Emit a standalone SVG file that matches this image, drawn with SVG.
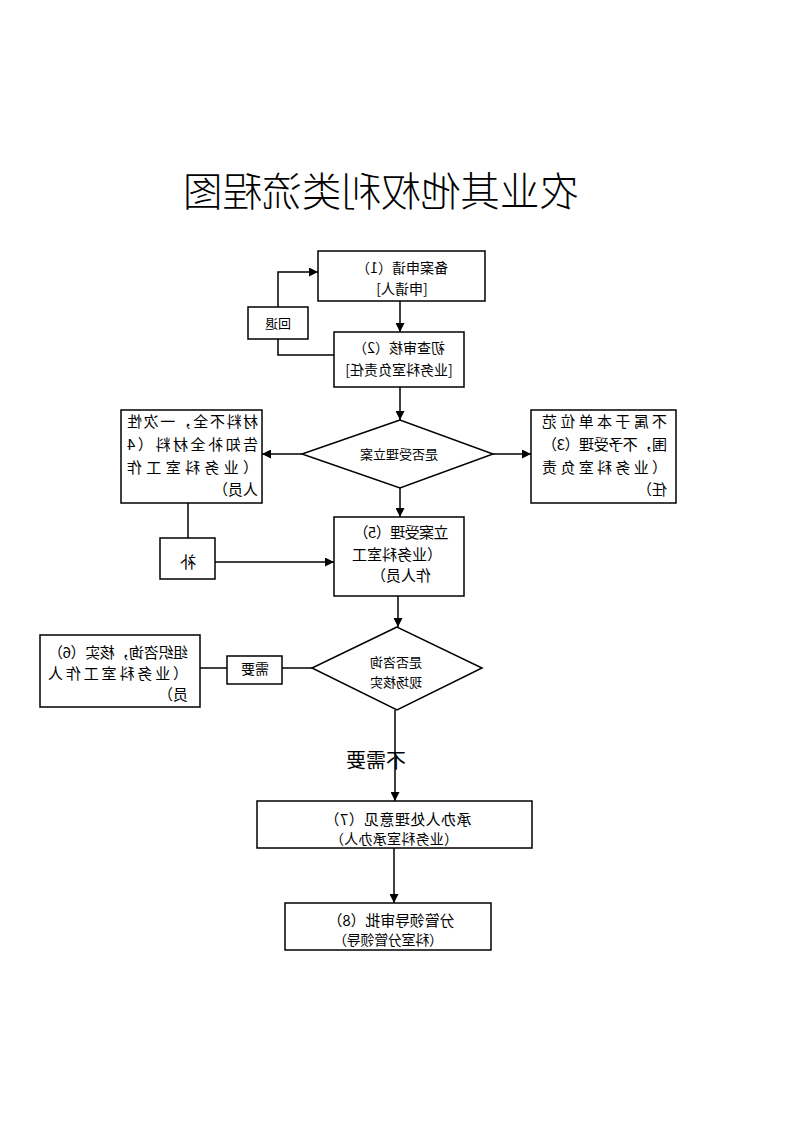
<svg xmlns="http://www.w3.org/2000/svg" width="793" height="1122" viewBox="0 0 793 1122">
<defs>
<marker id="arr" viewBox="0 0 10 10" refX="10" refY="5" markerWidth="10" markerHeight="9" markerUnits="userSpaceOnUse" orient="auto">
<path d="M0,0 L10,5 L0,10 Z" fill="#000"/>
</marker>
</defs>
<style>
.box{fill:#fff;stroke:#000;stroke-width:1.5}
.ln{fill:none;stroke:#000;stroke-width:1.5}
.t{font-family:"Noto Sans CJK SC","Liberation Sans",sans-serif;font-size:14px;fill:#000}
.m{text-anchor:middle}
.f15{font-size:15px}
</style>
<rect width="793" height="1122" fill="#fff"/>
<g transform="translate(793,0) scale(-1,1)">
<g id="title"><text class="t m" x="412" y="206" style="font-size:40px;font-weight:300" textLength="396" lengthAdjust="spacingAndGlyphs">农业其他权利类流程图</text></g>
<g id="connectors">
<path class="ln" d="M393,301 V332" marker-end="url(#arr)"/>
<path class="ln" d="M515,307 V272 H475" marker-end="url(#arr)"/>
<path class="ln" d="M515,339 V355 H459"/>
<path class="ln" d="M393,387 V420" marker-end="url(#arr)"/>
<path class="ln" d="M300,454 H262" marker-end="url(#arr)"/>
<path class="ln" d="M491,454 H531" marker-end="url(#arr)"/>
<path class="ln" d="M393,488 V517" marker-end="url(#arr)"/>
<path class="ln" d="M605,503 V538"/>
<path class="ln" d="M578,562 H459" marker-end="url(#arr)"/>
<path class="ln" d="M395,596 V627" marker-end="url(#arr)"/>
<path class="ln" d="M481,668 H511"/>
<path class="ln" d="M566,668 H593"/>
<path class="ln" d="M398,710 V801" marker-end="url(#arr)"/>
<path class="ln" d="M399,848 V903" marker-end="url(#arr)"/>
</g>
<g id="label-noneed"><text class="t m" x="417" y="768" style="font-size:20px">不需要</text></g>
<g id="n1"><rect class="box" x="308" y="251" width="167" height="50"/>
<text class="t m" x="391" y="273">备案申请（1）</text><text class="t m" x="391" y="294">[申请人]</text></g>
<g id="back"><rect class="box" x="485" y="307" width="60" height="32"/>
<text class="t m" x="515" y="328" style="font-size:13px">回退</text></g>
<g id="n2"><rect class="box" x="329" y="332" width="130" height="55"/>
<text class="t m" x="394" y="353">初查审核（2）</text><text class="t m" x="394" y="375">[业务科室负责任]</text></g>
<g id="d1"><polygon class="box" points="393,420 491,454 393,488 300,454"/>
<text class="t m" x="394" y="459" style="font-size:13px">是否受理立案</text></g>
<g id="n3"><rect class="box" x="117" y="410" width="145" height="93"/>
<text class="t f15" x="126" y="427" textLength="125" lengthAdjust="spacing">不属于本单位范</text>
<text class="t f15" x="126" y="450" textLength="125" lengthAdjust="spacing">围，不予受理（3）</text>
<text class="t f15" x="126" y="473" textLength="125" lengthAdjust="spacing">（业务科室负责</text>
<text class="t f15" x="126" y="495">任）</text></g>
<g id="n4"><rect class="box" x="531" y="410" width="141" height="93"/>
<text class="t f15" x="535" y="427" textLength="131" lengthAdjust="spacing">材料不全，一次性</text>
<text class="t f15" x="535" y="450" textLength="131" lengthAdjust="spacing">告知补全材料（4</text>
<text class="t f15" x="535" y="473" textLength="131" lengthAdjust="spacing">（业务科室工作</text>
<text class="t f15" x="535" y="495">人员）</text></g>
<g id="bu"><rect class="box" x="578" y="538" width="55" height="41"/>
<text class="t m" x="605" y="568" style="font-size:16px">补</text></g>
<g id="n5"><rect class="box" x="329" y="517" width="130" height="79"/>
<text class="t m f15" x="392" y="538" textLength="95" lengthAdjust="spacing">立案受理（5）</text>
<text class="t m f15" x="396" y="560">（业务科室工</text>
<text class="t m f15" x="392" y="581">作人员）</text></g>
<g id="d2"><polygon class="box" points="396,627 481,668 396,710 311,668"/>
<text class="t m" x="397" y="667" style="font-size:13px">是否咨询</text>
<text class="t m" x="397" y="687" style="font-size:13px">现场核实</text></g>
<g id="need"><rect class="box" x="511" y="656" width="55" height="28"/>
<text class="t m" x="538" y="674">需要</text></g>
<g id="n6"><rect class="box" x="593" y="635" width="160" height="72"/>
<text class="t f15" x="605" y="658" textLength="140" lengthAdjust="spacing">组织咨询，核实（6）</text>
<text class="t f15" x="605" y="679" textLength="140" lengthAdjust="spacing">（业务科室工作人</text>
<text class="t f15" x="605" y="700">员）</text></g>
<g id="n7"><rect class="box" x="261" y="801" width="275" height="47"/>
<text class="t m f15" x="395" y="825" textLength="147" lengthAdjust="spacing">承办人处理意见（7）</text>
<text class="t m" x="399" y="844" textLength="128" lengthAdjust="spacing">（业务科室承办人）</text></g>
<g id="n8"><rect class="box" x="302" y="903" width="206" height="47"/>
<text class="t m f15" x="402" y="926" textLength="127" lengthAdjust="spacing">分管领导审批（8）</text>
<text class="t m" x="405" y="945" textLength="110" lengthAdjust="spacing">（科室分管领导）</text></g>
</g>
</svg>
